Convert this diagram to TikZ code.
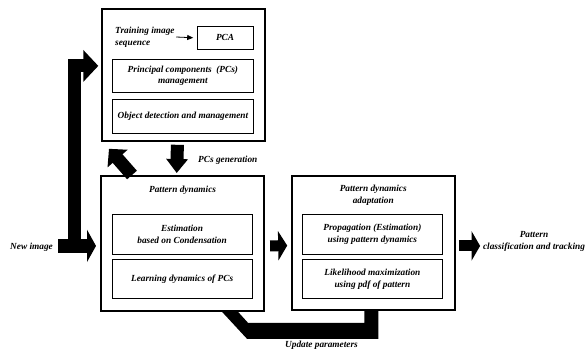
\documentclass[tikz,border=0pt]{standalone}
\usepackage{fontspec}
\setmainfont{Liberation Serif}
\usetikzlibrary{arrows.meta,calc}
\newcommand\lblfont{\fontsize{9.3bp}{11.6bp}\selectfont\bfseries\itshape}
\begin{document}
\begin{tikzpicture}[x=1bp,y=-1bp,
  bigbox/.style={draw,line width=1.8bp,anchor=north west,inner sep=0},
  smallbox/.style={draw,line width=0.8bp,anchor=north west,inner sep=0,align=center,font=\lblfont},
  lbl/.style={font=\lblfont,align=center,inner sep=0},
  fat/.style={line width=#1,line join=miter,draw=black},
]
\useasboundingbox (0,0) rectangle (587,352);
% big boxes
\node[bigbox,minimum width=163.3bp,minimum height=132bp] (top) at (100.7,8) {};
\node[bigbox,minimum width=163.3bp,minimum height=135bp] (pd) at (100,175) {};
\node[bigbox,minimum width=163.3bp,minimum height=134.3bp] (pda) at (290.7,175) {};
% inner boxes
\node[smallbox,minimum width=56bp,minimum height=22.7bp] (pca) at (196.7,26) {PCA};
\node[smallbox,minimum width=141bp,minimum height=33.6bp] (pcm) at (112,58.7) {Principal components\ \ (PCs)\\management};
\node[smallbox,minimum width=141bp,minimum height=34bp] (obj) at (112,98.7) {Object detection and management};
\node[smallbox,minimum width=140bp,minimum height=39.7bp] (est) at (111.7,214.3) {Estimation\\based on Condensation};
\node[smallbox,minimum width=140bp,minimum height=39bp] (learn) at (111.7,259.3) {Learning dynamics of PCs};
\node[smallbox,minimum width=140.6bp,minimum height=39.7bp] (prop) at (301.7,214.3) {Propagation (Estimation)\\using pattern dynamics};
\node[smallbox,minimum width=140.6bp,minimum height=39bp] (like) at (301.7,259.3) {Likelihood maximization\\using pdf of pattern};
% labels
\node[lbl,align=left,anchor=west] (train) at (115,37) {Training image\\sequence};
\node[lbl] (pdt) at ($(pd.north)+(0,15)$) {Pattern dynamics};
\node[lbl] (pdat) at ($(pda.north)+(0,20.5)$) {Pattern dynamics\\adaptation};
\node[lbl,anchor=west] (pcsg) at (198,160) {PCs generation};
\node[lbl] (newimg) at (31.5,247.3) {New image};
\node[lbl] (out) at (534,241.7) {Pattern\\classification and tracking};
\node[lbl] (upd) at (321.5,345) {Update parameters};
% thin arrow
\draw[line width=0.8bp,-{Triangle[width=5bp,length=6bp]}] ($(train.east)+(1.5,0)$) -- ($(pca.west)+(-3.5,0)$);
% fat arrows
\draw[fat=14bp,-{Triangle[width=32bp,length=9bp]}] ($(pd.west)+(-42,2.5)$) -- ($(pd.west)+(-4,2.5)$);
\draw[fat=13bp,-{Triangle[width=31bp,length=15bp]}] ($(pd.west)+(-25.3,2.5)$) |- ($(top.west)+(-2.4,-9)$);
\draw[fat=13bp,-{Triangle[width=21bp,length=14bp]}] ($(top.south)+(-5.85,3)$) -- ($(pd.north)+(-5.85,-2)$);
\draw[fat=13bp,-{Triangle[width=26bp,length=13bp]}] ($(pd.north west)+(32,0)$) -- ($(top.south west)+(8.3,7)$);
\draw[fat=11bp,-{Triangle[width=29bp,length=9bp]}] ($(pd.east)+(5,2.5)$) -- ($(pda.west)+(-3.5,2.5)$);
\draw[fat=11bp,-{Triangle[width=29bp,length=8.5bp]}] ($(pda.east)+(3,2.85)$) -- ($(pda.east)+(24.3,2.85)$);
% update parameters band
\fill ($(pd.south west)+(122,0)$) -- ++(25,27) -- ($(pda.south)+(5.15,27.7)$) -- ($(pda.south)+(5.15,0)$)
  -- ($(pda.south)+(-8.85,0)$) -- ($(pda.south)+(-8.85,11.7)$) -- ($(pd.south west)+(148,11)$) -- ($(pd.south west)+(138,0)$) -- cycle;
\end{tikzpicture}
\end{document}
